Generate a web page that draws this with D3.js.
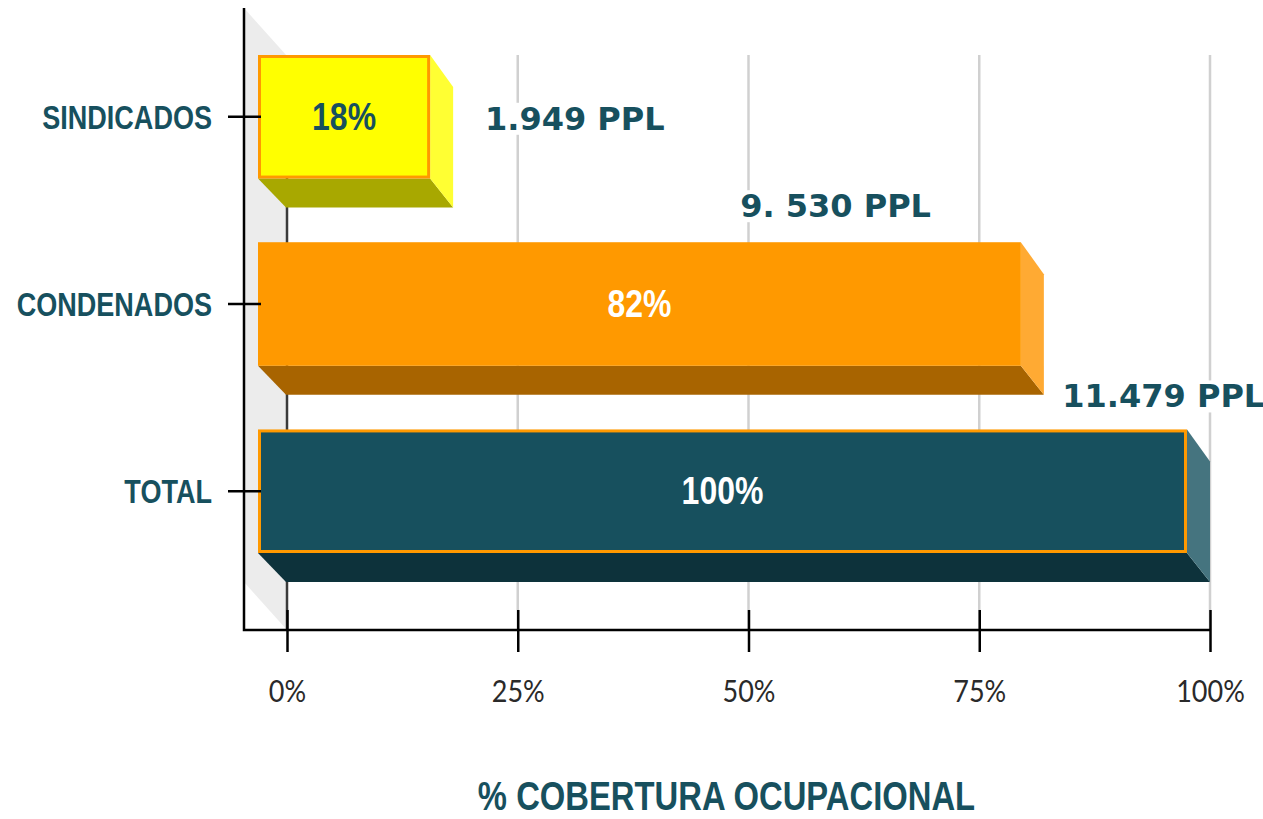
<!DOCTYPE html>
<html>
<head>
<meta charset="utf-8">
<script src="https://cdn.jsdelivr.net/npm/d3@7"></script>
<style>
  html, body { margin: 0; padding: 0; background: #ffffff; }
  svg { display: block; }
  .cond { font-family: "Liberation Sans", Arial, sans-serif; font-weight: bold; }
</style>
</head>
<body>
<svg id="chart" width="1263" height="819"></svg>
<script>
// ---- data ----
const categories = ["SINDICADOS", "CONDENADOS", "TOTAL"];
const coverage   = [18, 82, 100];                      // % cobertura ocupacional
const people     = ["1.949 PPL", "9. 530 PPL", "11.479 PPL"];
const tickValues = [0, 25, 50, 75, 100];
const tickLabels = ["0%", "25%", "50%", "75%", "100%"];
const axisTitle  = "% COBERTURA OCUPACIONAL";

// ---- styles ----
const frontColors  = ["#ffff00", "#ff9900", "#17505e"];
const sideColors   = ["#ffff33", "#ffaa33", "#45747f"];
const bottomColors = ["#a8a800", "#a86400", "#0d323b"];
const outlineColors = ["#ff9900", null, "#ff9900"];
const innerLabelColors = ["#17505e", "#ffffff", "#ffffff"];
const teal = "#17505e";
const narrow = 0.82;   // narrow (condensed) glyph scaling

const svg = d3.select("#chart");

function condText(sel, px, py, size, fill, txt, anchor) {
  return sel.append("text").attr("class", "cond")
    .attr("transform", `translate(${px},${py}) scale(${narrow},1)`)
    .attr("text-anchor", anchor || "middle")
    .attr("font-size", size).attr("fill", fill).text(txt);
}

// ---- scales ----
const x = d3.scaleLinear().domain([0, 100]).range([287, 1210]);
const y = d3.scaleBand().domain(categories).range([55, 553]).paddingInner(0.34).paddingOuter(0);
const bw = y.bandwidth();

const axisX = 244, axisTop = 8, axisBottomY = 630, gridTop = 55;
const wallDX = 43, wallDY = 48;
const dxL = 29, dxR = 23, dyT = 32, dyB = 29;

// ---- gridlines ----
svg.append("g").selectAll("line").data(tickValues.slice(1)).join("line")
  .attr("x1", d => x(d)).attr("x2", d => x(d))
  .attr("y1", gridTop).attr("y2", axisBottomY)
  .attr("stroke", "#d0d0d0").attr("stroke-width", 2.5);

// ---- side wall ----
svg.append("polygon")
  .attr("points", [[x(0) - wallDX, axisTop], [x(0), axisTop + wallDY], [x(0), axisBottomY], [x(0) - wallDX, axisBottomY - wallDY]].map(p => p.join(",")).join(" "))
  .attr("fill", "#ececec");

// 0% line
svg.append("line")
  .attr("x1", x(0)).attr("x2", x(0)).attr("y1", gridTop).attr("y2", axisBottomY)
  .attr("stroke", "#3a3a3a").attr("stroke-width", 2.5);

// ---- bars ----
const bars = categories.map((c, i) => {
  const fT = y(c), fB = y(c) + bw;
  const bL = x(0) - 1, bR = x(coverage[i]);
  const fL = x(0) - dxL, fR = bR - dxR;
  return { c, i, fT, fB, bL, bR, fL, fR };
});

const g = svg.append("g");
bars.forEach(b => {
  const pts = a => a.map(p => p.join(",")).join(" ");
  g.append("polygon")
    .attr("points", pts([[b.fL, b.fB], [b.fR, b.fB], [b.bR, b.fB + dyB], [b.bL, b.fB + dyB]]))
    .attr("fill", bottomColors[b.i]);
  g.append("polygon")
    .attr("points", pts([[b.fR, b.fT], [b.bR, b.fT + dyT], [b.bR, b.fB + dyB], [b.fR, b.fB]]))
    .attr("fill", sideColors[b.i]);
  const oc = outlineColors[b.i];
  g.append("rect")
    .attr("x", b.fL + (oc ? 1.5 : 0)).attr("y", b.fT + (oc ? 1.5 : 0))
    .attr("width", b.fR - b.fL - (oc ? 3 : 0)).attr("height", bw - (oc ? 3 : 0))
    .attr("fill", frontColors[b.i])
    .attr("stroke", oc || "none").attr("stroke-width", oc ? 3 : 0);
  condText(g, (b.fL + b.fR) / 2, b.fT + bw / 2 + 13, 39, innerLabelColors[b.i], coverage[b.i] + "%");
});

// ---- axes ----
const xAxis = d3.axisBottom(x).tickValues(tickValues).tickFormat((d, i) => tickLabels[i])
  .tickSizeInner(22).tickSizeOuter(0).tickPadding(20);
const gx = svg.append("g").attr("transform", `translate(0,${axisBottomY})`).call(xAxis);
gx.select(".domain").remove();
gx.selectAll(".tick line").attr("y1", -20).attr("stroke", "#000").attr("stroke-width", 2.5);
gx.selectAll(".tick text")
  .attr("font-family", "Lato, 'Open Sans', sans-serif")
  .attr("font-size", 30).attr("fill", "#2a2a2a")
  .attr("y", 0).attr("dy", 0)
  .attr("transform", "translate(0,72) scale(0.9,1)");

const yAxis = d3.axisLeft(y).tickSizeInner(16).tickSizeOuter(0).tickFormat("");
const gy = svg.append("g").attr("transform", `translate(${axisX},0)`).call(yAxis);
gy.select(".domain").remove();
gy.selectAll(".tick line").attr("x2", 17).attr("x1", -16).attr("stroke", "#000").attr("stroke-width", 2.5);
categories.forEach(c => {
  condText(svg, axisX - 32, y(c) + bw / 2 + 12, 33, teal, c, "end");
});

// axis lines (L shape)
svg.append("path")
  .attr("d", `M${axisX},${axisTop}V${axisBottomY}H${x(100)}`)
  .attr("fill", "none").attr("stroke", "#000").attr("stroke-width", 2.5);

// ---- people labels ----
const labelAnchors = [
  { xv: 21.45, off: d => y(d) + bw / 2 + 13 },
  { xv: 49.1,  off: d => y(d) - 25 },
  { xv: 84.0,  off: d => y(d) - 22 }
];
categories.forEach((c, i) => {
  const t = svg.append("text")
    .attr("x", x(labelAnchors[i].xv)).attr("y", labelAnchors[i].off(c))
    .attr("font-family", "'DejaVu Sans', Verdana, sans-serif")
    .attr("font-weight", "bold").attr("font-size", 32)
    .attr("fill", teal).text(people[i]);
  const bb = t.node().getBBox();
  svg.insert("rect", () => t.node())
    .attr("x", bb.x - 3).attr("y", bb.y + 3).attr("width", bb.width + 6).attr("height", bb.height - 6)
    .attr("fill", "#ffffff");
});

// ---- axis title ----
condText(svg, (x(0) + x(100)) / 2 - 22, 810, 40, teal, axisTitle);
</script>
</body>
</html>
